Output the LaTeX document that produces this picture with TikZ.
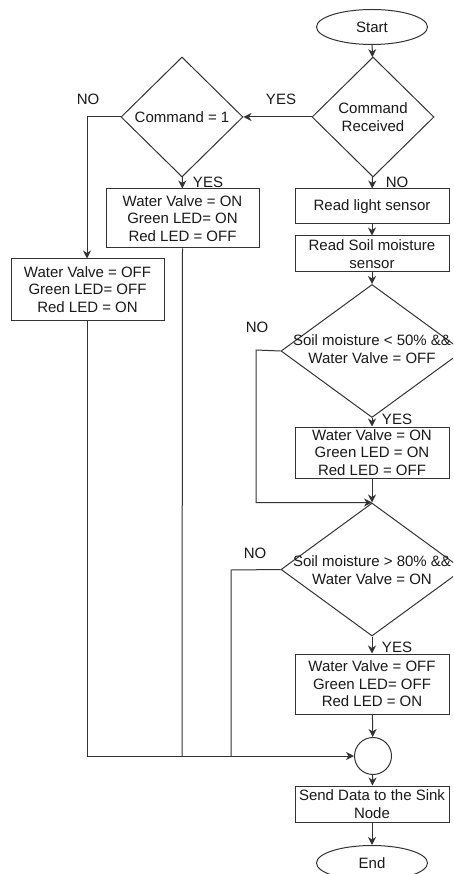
\documentclass[tikz,border=0pt]{standalone}
\usepackage{fontspec}
\setmainfont{Liberation Sans}
\usetikzlibrary{shapes.geometric,arrows.meta}
\begin{document}
\begin{tikzpicture}[x=1pt,y=-1pt,
  every node/.style={text=black!90, font=\fontsize{15}{17.5}\selectfont, inner sep=0pt},
  ln/.style={draw=black!80, line width=1pt},
  arr/.style={ln, -{Stealth[length=8pt,width=8pt,inset=2.5pt]}},
  proc/.style={ln, rectangle, align=center, minimum width=154pt},
  term/.style={ln, ellipse, minimum width=111pt, minimum height=35pt},
  decision/.style={ln, diamond, minimum width=122pt, minimum height=120pt},
  bigdecision/.style={ln, diamond, minimum width=182pt, minimum height=133pt},
  junction/.style={ln, circle, minimum size=37pt},
  tag/.style={align=center}
]
\useasboundingbox (0,0) rectangle (453,874);
\clip (0,0) rectangle (453,874);

% main column
\node[term] (start) at (372,27) {Start};
\node[decision, align=center] (cr) at (373,117) {Command\\Received};
\node[proc, minimum height=35pt] (rl) at (372,206.5) {Read light sensor};
\node[proc, minimum height=36pt] (rs) at (372,254) {Read Soil moisture\\sensor};
\node[bigdecision] (d3) at (372,351) {};
\node[tag] (d3t) at (372,349) {Soil moisture < 50\% \&\&\\Water Valve = OFF};
\node[proc, minimum height=51pt] (b3) at (372,452.5) {Water Valve = ON\\Green LED = ON\\Red LED = OFF};
\node[bigdecision] (d4) at (372,569.5) {};
\node[tag] (d4t) at (372,570) {Soil moisture > 80\% \&\&\\Water Valve = ON};
\node[proc, minimum height=60pt] (b4) at (372,684) {Water Valve = OFF\\Green LED= OFF\\Red LED = ON};
\node[junction] (join) at (373,756) {};
\node[proc, minimum height=36pt] (send) at (372,804) {Send Data to the Sink\\Node};
\node[term] (end) at (372,863) {End};

% command branch
\node[decision] (c1) at (182,117) {};
\node[tag] (c1t) at (182,117) {Command = 1};
\node[proc, minimum width=153pt, minimum height=59pt] (on) at (182.5,218.5) {Water Valve = ON\\Green LED= ON\\Red LED = OFF};
\node[proc, minimum width=153pt, minimum height=61pt] (off) at (87.5,289.5) {Water Valve = OFF\\Green LED= OFF\\Red LED = ON};

% branch labels
\node (yes1) at (281,99) {YES};
\node (no1) at (88,99) {NO};
\node (yes2) at (208,182) {YES};
\node (no2) at (397,182) {NO};
\node (no3) at (257,327) {NO};
\node (yes3) at (397,419.5) {YES};
\node (no4) at (255,553) {NO};
\node (yes4) at (397,647) {YES};

% bend points
\coordinate (k1) at (87,117);
\coordinate (k2) at (256,350);
\coordinate (k3) at (231,570);
\coordinate (m1) at (87,756);
\coordinate (m2) at (182,756);
\coordinate (m3) at (231,756);

% connectors
\draw[arr] (start) -- (cr);
\draw[arr] (cr) -- (c1);
\draw[arr] (cr) -- (rl);
\draw[arr] (rl) -- (rs);
\draw[arr] (rs) -- (d3);
\draw[arr] (d3) -- (b3);
\draw[arr] (b3) -- (d4);
\draw[arr] (d4) -- (b4);
\draw[arr] (b4) -- (join);
\draw[arr] (join) -- (send);
\draw[arr] (send) -- (end);
\draw[arr] (c1.west) -- (k1) -- (off.north -| k1);
\draw[arr] (c1) -- (on);
\draw[arr] (d3.west) -- (k2) |- (d4.north);
\draw[ln] (d4.west) -- (k3) -- (m3);
\draw[ln] (on.south) -- (m2);
\draw[arr] (off.south -| m1) -- (m1) -- (join.west);
\end{tikzpicture}
\end{document}
